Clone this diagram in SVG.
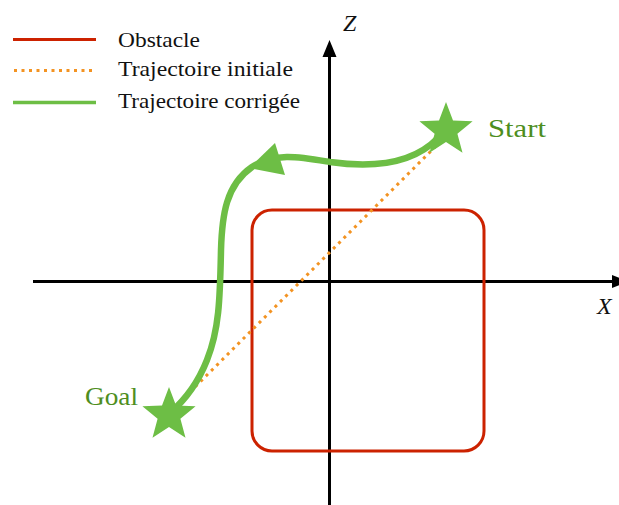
<svg xmlns="http://www.w3.org/2000/svg" width="619" height="505" viewBox="0 0 619 505">
<style>
.ax{stroke:#000;stroke-width:3;fill:none}
.lbl{fill:#111;font-style:italic;font-size:24px}
.leg{font-size:21.5px;fill:#111}
.obs{stroke:#cc2200;stroke-width:3;fill:none}
.ini{stroke:#f39322;stroke-width:3;fill:none;stroke-dasharray:3 4.5}
.cor{stroke:#6dbe45;stroke-width:6.5;fill:none}
.star{fill:#6dbe45}
.gl{font-size:26px;fill:#4e8e1e}
</style>
<rect width="619" height="505" fill="#fff"/>
<g id="legend">
<line x1="13" y1="39.5" x2="96" y2="39.5" class="obs"/>
<line x1="14" y1="70.5" x2="96" y2="70.5" class="ini"/>
<line x1="13" y1="102.5" x2="96" y2="102.5" class="cor" style="stroke-width:3.5"/>
<text x="118" y="47" class="leg" font-family="Liberation Serif, serif" textLength="82" lengthAdjust="spacingAndGlyphs">Obstacle</text>
<text x="118" y="76" class="leg" font-family="Liberation Serif, serif" textLength="175" lengthAdjust="spacingAndGlyphs">Trajectoire initiale</text>
<text x="118" y="108" class="leg" font-family="Liberation Serif, serif" textLength="182" lengthAdjust="spacingAndGlyphs">Trajectoire corrigée</text>
</g>
<g id="axes">
<line x1="33" y1="281.5" x2="612" y2="281.5" class="ax"/>
<polygon points="612,275 628,281.5 612,288" fill="#000"/>
<line x1="329.5" y1="505" x2="329.5" y2="55" class="ax"/>
<polygon points="322.5,57 329.5,40 336.5,57" fill="#000"/>
<text x="597" y="314" class="lbl" font-family="Liberation Serif, serif">X</text>
<text x="343" y="31" class="lbl" font-family="Liberation Serif, serif">Z</text>
</g>
<g id="obstacle">
<rect x="252" y="210" width="232" height="241" rx="20" ry="20" class="obs"/>
</g>
<g id="connectors">
<line x1="174" y1="408" x2="440" y2="142" class="ini"/>
<path d="M438,138 C412,165 372,168 330,162 C300,157 275,152 252,167 C226,185 222,215 221,250 C220,300 219,330 207,360 C198,383 185,400 170,413" class="cor"/>
<polygon points="249,168 275,143 285,175" class="star"/>
</g>
<g id="start">
<polygon class="star" transform="translate(446,130)" points="0,-28 7,-9.6 26.6,-8.7 11.4,3.7 16.5,22.7 0,12 -16.5,22.7 -11.4,3.7 -26.6,-8.7 -7,-9.6"/>
<text x="488" y="137" class="gl" font-family="Liberation Serif, serif" textLength="58" lengthAdjust="spacingAndGlyphs">Start</text>
</g>
<g id="goal">
<polygon class="star" transform="translate(169,415)" points="0,-28 7,-9.6 26.6,-8.7 11.4,3.7 16.5,22.7 0,12 -16.5,22.7 -11.4,3.7 -26.6,-8.7 -7,-9.6"/>
<text x="85" y="405" class="gl" font-family="Liberation Serif, serif" textLength="53" lengthAdjust="spacingAndGlyphs">Goal</text>
</g>
</svg>
